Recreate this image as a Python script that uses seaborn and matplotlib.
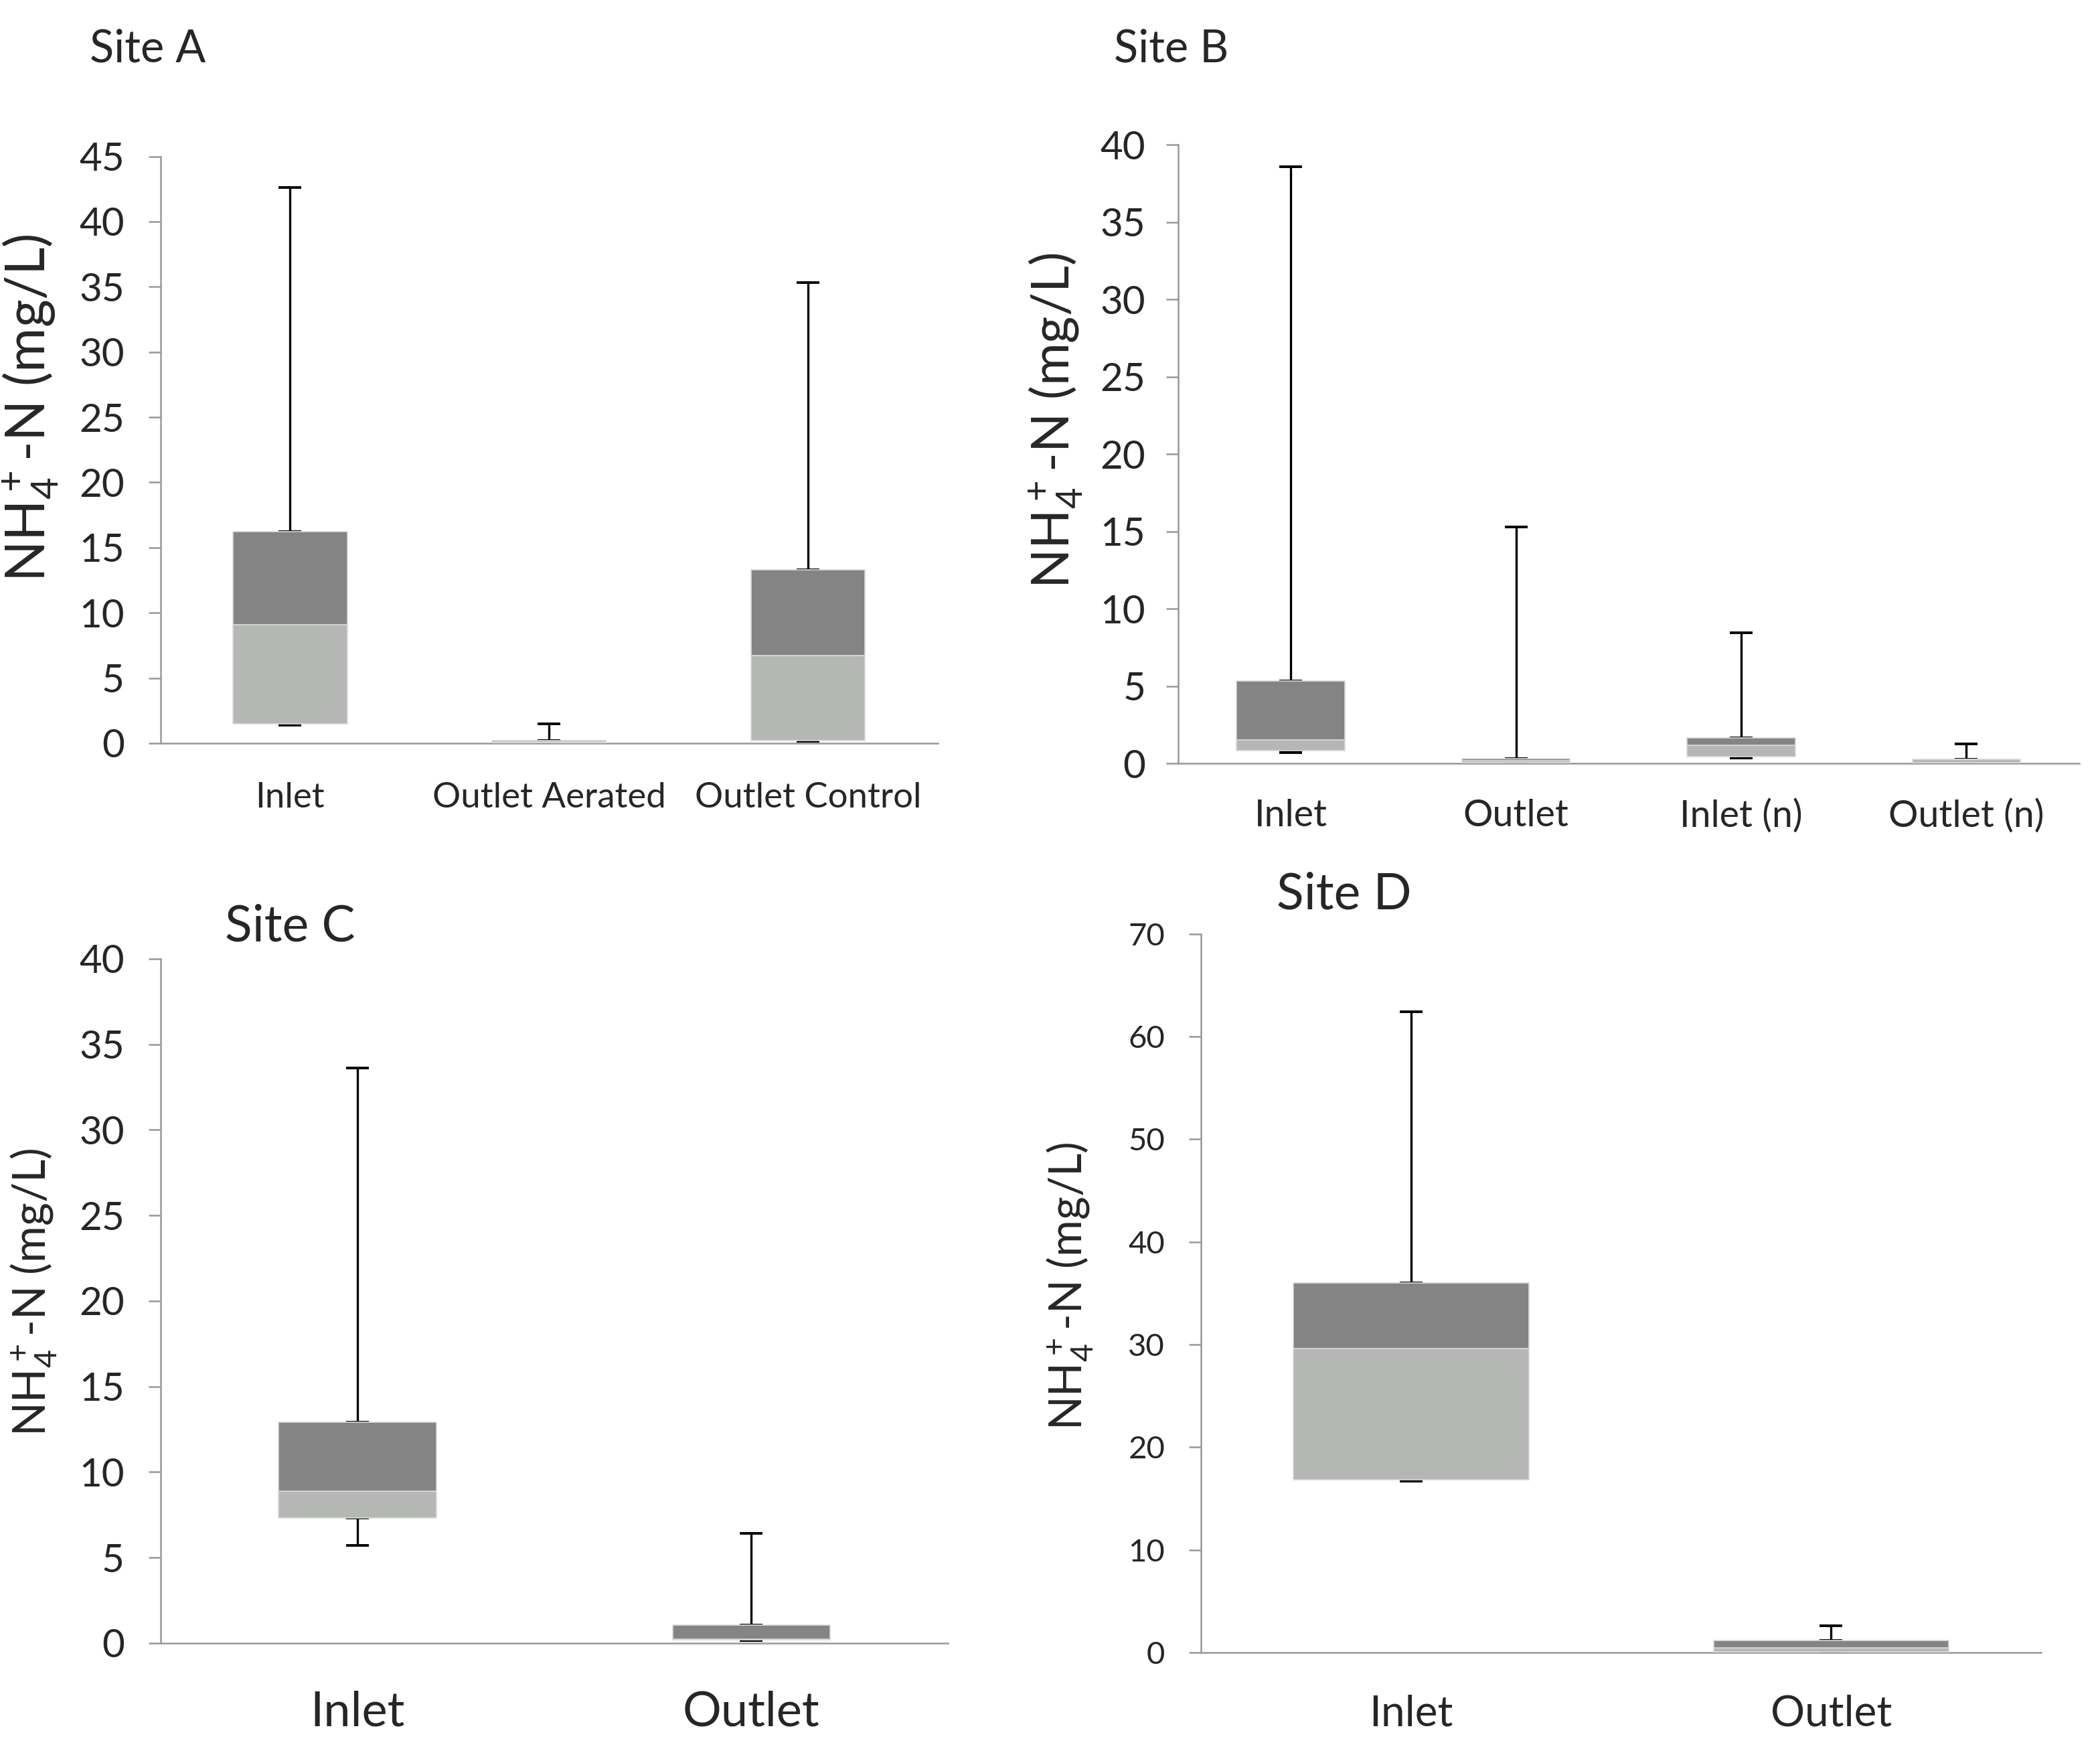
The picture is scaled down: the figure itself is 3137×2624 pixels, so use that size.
import matplotlib
matplotlib.use("Agg")
import matplotlib.pyplot as plt
import numpy as np
import pandas as pd
import seaborn as sns

# box statistics (mg/L)
site_a_cats = ["Inlet", "Outlet Aerated", "Outlet Control"]
site_a_min = [1.4, 0.03, 0.15]
site_a_q1 = [1.5, 0.05, 0.2]
site_a_med = [9.1, 0.12, 6.7]
site_a_q3 = [16.2, 0.2, 13.3]
site_a_max = [42.6, 1.5, 35.3]

site_b_cats = ["Inlet", "Outlet", "Inlet (n)", "Outlet (n)"]
site_b_min = [0.72, 0.05, 0.37, 0.02]
site_b_q1 = [0.83, 0.06, 0.43, 0.03]
site_b_med = [1.5, 0.17, 1.19, 0.25]
site_b_q3 = [5.32, 0.31, 1.64, 0.26]
site_b_max = [38.6, 15.3, 8.44, 1.24]

site_c_cats = ["Inlet", "Outlet"]
site_c_min = [5.7, 0.15]
site_c_q1 = [7.3, 0.2]
site_c_med = [8.9, 0.22]
site_c_q3 = [12.9, 1.07]
site_c_max = [33.6, 6.4]

site_d_cats = ["Inlet", "Outlet"]
site_d_min = [16.7, 0.05]
site_d_q1 = [16.8, 0.08]
site_d_med = [29.6, 0.48]
site_d_q3 = [36.0, 1.17]
site_d_max = [62.4, 2.57]

DARK = "#848484"
LIGHT = "#b5b7b5"
EDGE = "#dadada"
AXIS = "#989898"
YLABEL = r"NH$_4^+$-N (mg/L)"

sns.set_style("white")
plt.rcParams["font.family"] = ["Lato", "DejaVu Sans"]
plt.rcParams["mathtext.default"] = "regular"


def draw_panel(ax, cats, vmin, q1, med, q3, vmax, ymax, ystep, width,
               ytick_fs, xtick_fs, ylabel_fs, xpad, ypad, label_xy):
    n = len(cats)
    pos = np.arange(n)
    df = pd.DataFrame({
        "cat": cats,
        "lower": np.subtract(med, q1),
        "upper": np.subtract(q3, med),
    })
    # stacked box: Q1->median light, median->Q3 dark
    sns.barplot(data=df, x="cat", y="lower", bottom=q1, color=LIGHT,
                saturation=1, width=width, errorbar=None, edgecolor=EDGE,
                linewidth=0.6, zorder=3, ax=ax)
    sns.barplot(data=df, x="cat", y="upper", bottom=med, color=DARK,
                saturation=1, width=width, errorbar=None, edgecolor=EDGE,
                linewidth=0.6, zorder=3, ax=ax)

    # Excel-style whiskers: Q3 -> max and Q1 -> min
    up = np.subtract(vmax, q3)
    down = np.subtract(q1, vmin)
    zeros = np.zeros(n)
    ax.errorbar(pos, q3, yerr=[zeros, up], fmt="none", ecolor="black",
                elinewidth=1.2, capsize=6, capthick=1.4, zorder=2)
    ax.errorbar(pos, q1, yerr=[down, zeros], fmt="none", ecolor="black",
                elinewidth=1.2, capsize=6, capthick=1.4, zorder=2)

    ax.set_xlim(-0.5, n - 0.5)
    ax.set_ylim(0, ymax)
    ax.set_yticks(np.arange(0, ymax + 0.1, ystep))
    ax.set_xticks(pos)
    ax.set_xticks(np.arange(-0.5, n, 1), minor=True)
    ax.set_xticklabels(cats, fontsize=xtick_fs)
    ax.tick_params(axis="x", which="major", length=0, pad=xpad)
    ax.tick_params(axis="x", which="minor", length=6.5, width=0.9,
                   color=AXIS, direction="out")
    ax.tick_params(axis="y", length=6.5, width=0.9, color=AXIS,
                   direction="out", pad=ypad, labelsize=ytick_fs, left=True)
    ax.set_xlabel("")
    ax.set_ylabel(YLABEL, fontsize=ylabel_fs)
    ax.yaxis.set_label_coords(*label_xy)

    sns.despine(ax=ax)
    for side in ["left", "bottom"]:
        ax.spines[side].set_color(AXIS)
        ax.spines[side].set_linewidth(0.9)
    ax.grid(False)


fig = plt.figure(figsize=(3137 / 200, 2624 / 200), dpi=200)
ax_a = fig.add_axes([0.0765, 0.577, 0.370, 0.334])
ax_b = fig.add_axes([0.561, 0.5655, 0.429, 0.352])
ax_c = fig.add_axes([0.0765, 0.0648, 0.375, 0.3895])
ax_d = fig.add_axes([0.572, 0.0595, 0.400, 0.409])

draw_panel(ax_a, site_a_cats, site_a_min, site_a_q1, site_a_med, site_a_q3,
           site_a_max, 45, 5, 0.44, 21, 19, 29, 21, 13, (-0.129, 0.571))
draw_panel(ax_b, site_b_cats, site_b_min, site_b_q1, site_b_med, site_b_q3,
           site_b_max, 40, 5, 0.48, 21, 20, 28, 19, 11, (-0.104, 0.554))
draw_panel(ax_c, site_c_cats, site_c_min, site_c_q1, site_c_med, site_c_q3,
           site_c_max, 40, 5, 0.40, 21, 26, 24, 25.5, 13, (-0.129, 0.513))
draw_panel(ax_d, site_d_cats, site_d_min, site_d_q1, site_d_med, site_d_q3,
           site_d_max, 70, 10, 0.56, 17, 23, 24, 22.5, 13, (-0.126, 0.51))

fig.text(0.0427, 0.9718, "Site A", fontsize=24, ha="left", va="center")
fig.text(0.5306, 0.9718, "Site B", fontsize=24, ha="left", va="center")
fig.text(0.1071, 0.4726, "Site C", fontsize=27, ha="left", va="center")
fig.text(0.6078, 0.4909, "Site D", fontsize=27, ha="left", va="center")

fig.savefig("out.png", dpi=200)
